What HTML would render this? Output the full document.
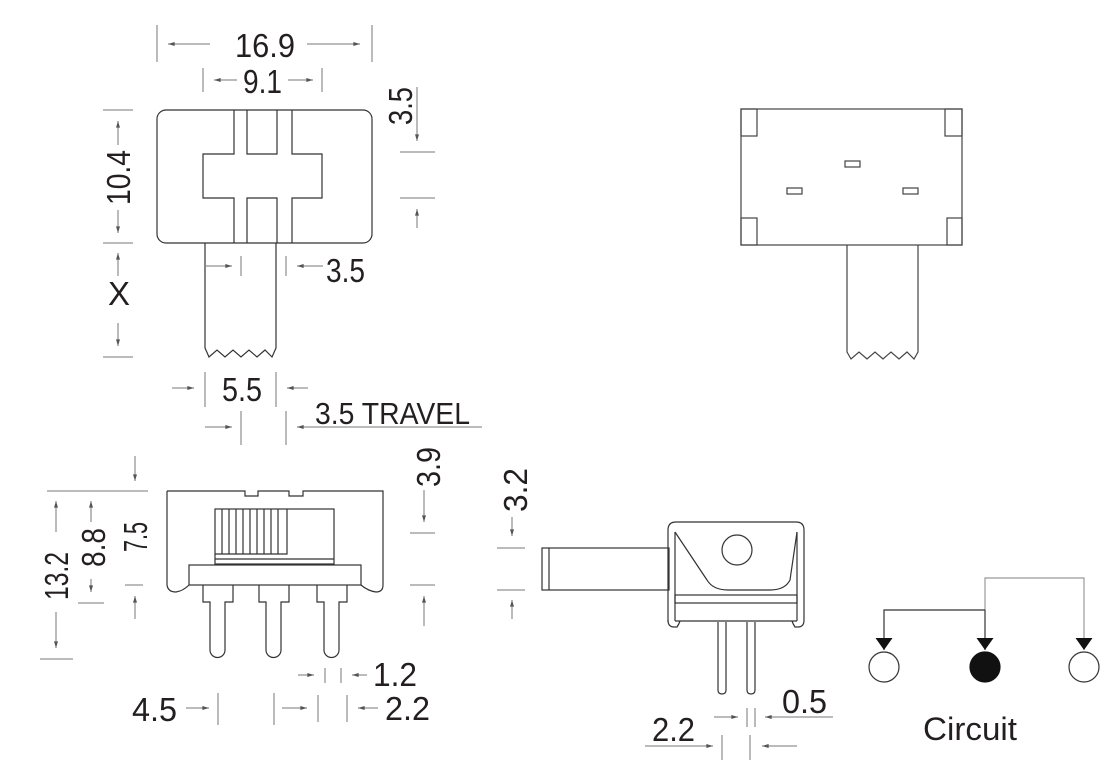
<!DOCTYPE html>
<html><head><meta charset="utf-8"><style>
html,body{margin:0;padding:0;background:#fff;}
svg{display:block;}
text{font-family:"Liberation Sans",sans-serif;fill:#231f20;}
</style></head><body>
<svg width="1120" height="784" viewBox="0 0 1120 784" xmlns="http://www.w3.org/2000/svg">
<defs>
<marker id="a" viewBox="0 0 10 6" refX="10" refY="3" markerWidth="7" markerHeight="4" orient="auto" markerUnits="userSpaceOnUse"><path d="M0,0 L10,3 L0,6z" fill="#555"/></marker>
<marker id="b" viewBox="0 0 10 10" refX="10" refY="5" markerWidth="12" markerHeight="17" orient="auto" markerUnits="userSpaceOnUse" preserveAspectRatio="none"><path d="M0,0 L10,5 L0,10z" fill="#111"/></marker>
</defs>

<g stroke="#777" stroke-width="1" fill="none">
<line x1="157" y1="25" x2="157" y2="62"/><line x1="372" y1="25" x2="372" y2="62"/>
<line x1="210" y1="44" x2="168" y2="44" marker-end="url(#a)"/><line x1="307" y1="44" x2="360" y2="44" marker-end="url(#a)"/>
<line x1="203" y1="68" x2="203" y2="92"/><line x1="322" y1="68" x2="322" y2="92"/>
<line x1="237" y1="80" x2="214" y2="80" marker-end="url(#a)"/><line x1="288" y1="80" x2="313" y2="80" marker-end="url(#a)"/>
<line x1="417" y1="87" x2="417" y2="141" marker-end="url(#a)"/>
<line x1="400" y1="152" x2="435" y2="152"/><line x1="400" y1="198" x2="435" y2="198"/>
<line x1="417" y1="228" x2="417" y2="209" marker-end="url(#a)"/>
<line x1="103" y1="110" x2="133" y2="110"/><line x1="103" y1="243" x2="133" y2="243"/><line x1="103" y1="357" x2="133" y2="357"/>
<line x1="118" y1="145" x2="118" y2="121" marker-end="url(#a)"/>
<line x1="118" y1="210" x2="118" y2="233" marker-end="url(#a)"/>
<line x1="118" y1="276" x2="118" y2="253" marker-end="url(#a)"/>
<line x1="118" y1="323" x2="118" y2="346" marker-end="url(#a)"/>
<line x1="206" y1="266" x2="232" y2="266" marker-end="url(#a)"/>
<line x1="241" y1="256" x2="241" y2="276"/><line x1="286" y1="256" x2="286" y2="276"/>
<line x1="323" y1="266" x2="297" y2="266" marker-end="url(#a)"/>
<line x1="205" y1="372" x2="205" y2="407"/><line x1="276" y1="372" x2="276" y2="407"/>
<line x1="172" y1="388" x2="194" y2="388" marker-end="url(#a)"/><line x1="308" y1="388" x2="287" y2="388" marker-end="url(#a)"/>
<line x1="241" y1="411" x2="241" y2="445"/><line x1="286" y1="411" x2="286" y2="445"/>
<line x1="205" y1="427" x2="232" y2="427" marker-end="url(#a)"/><line x1="482" y1="427" x2="297" y2="427" marker-end="url(#a)"/>

<line x1="47" y1="491" x2="148" y2="491"/><line x1="40" y1="659" x2="73" y2="659"/>
<line x1="56" y1="532" x2="56" y2="501" marker-end="url(#a)"/><line x1="56" y1="612" x2="56" y2="648" marker-end="url(#a)"/>
<line x1="91" y1="522" x2="91" y2="501" marker-end="url(#a)"/><line x1="91" y1="579" x2="91" y2="592" marker-end="url(#a)"/>
<line x1="78" y1="603" x2="104" y2="603"/>
<line x1="135" y1="456" x2="135" y2="481" marker-end="url(#a)"/>
<line x1="125" y1="585" x2="143" y2="585"/>
<line x1="135" y1="619" x2="135" y2="596" marker-end="url(#a)"/>
<line x1="424" y1="490" x2="424" y2="522" marker-end="url(#a)"/>
<line x1="410" y1="533" x2="435" y2="533"/><line x1="410" y1="585" x2="435" y2="585"/>
<line x1="424" y1="626" x2="424" y2="596" marker-end="url(#a)"/>
<line x1="325" y1="668" x2="325" y2="683"/><line x1="341" y1="668" x2="341" y2="683"/>
<line x1="298" y1="675" x2="314" y2="675" marker-end="url(#a)"/><line x1="367" y1="675" x2="352" y2="675" marker-end="url(#a)"/>
<line x1="218" y1="693" x2="218" y2="725"/><line x1="274" y1="693" x2="274" y2="725"/>
<line x1="318" y1="695" x2="318" y2="722"/><line x1="347" y1="695" x2="347" y2="722"/>
<line x1="186" y1="708" x2="209" y2="708" marker-end="url(#a)"/>
<line x1="282" y1="708" x2="307" y2="708" marker-end="url(#a)"/>
<line x1="378" y1="708" x2="358" y2="708" marker-end="url(#a)"/>
<line x1="512" y1="517" x2="512" y2="536" marker-end="url(#a)"/>
<line x1="497" y1="548" x2="525" y2="548"/><line x1="497" y1="590" x2="525" y2="590"/>
<line x1="512" y1="619" x2="512" y2="600" marker-end="url(#a)"/>
<line x1="747" y1="708" x2="747" y2="727"/><line x1="755" y1="708" x2="755" y2="727"/>
<line x1="714" y1="717" x2="738" y2="717" marker-end="url(#a)"/><line x1="833" y1="717" x2="765" y2="717" marker-end="url(#a)"/>
<line x1="722" y1="735" x2="722" y2="760"/><line x1="750" y1="735" x2="750" y2="760"/>
<line x1="645" y1="746" x2="713" y2="746" marker-end="url(#a)"/><line x1="797" y1="746" x2="762" y2="746" marker-end="url(#a)"/>
</g>

<g stroke="#333" stroke-width="1.2" fill="none">
<rect x="157" y="110" width="215" height="133" rx="9"/>
<path d="M234,110 V154 H203 V198 H234 V243 M292,110 V154 H322 V198 H292 V243"/>
<path d="M247,110 V154 H277 V110 M247,243 V198 H277 V243"/>
<path d="M205,243 V348 L209,357 L217,350 L225,357 L233,350 L241,357 L249,350 L257,357 L265,350 L272,357 L276,348 V243"/>
</g>

<g stroke="#444" stroke-width="1.2" fill="none">
<rect x="741" y="109" width="221" height="136"/>
<rect x="741" y="109" width="16" height="27"/><rect x="945" y="109" width="17" height="27"/>
<rect x="741" y="218" width="16" height="27"/><rect x="947" y="218" width="15" height="27"/>
<rect x="845" y="161" width="15" height="6"/><rect x="787" y="188" width="15" height="6"/><rect x="903" y="188" width="15" height="6"/>
<path d="M847,245 V352 L851,359 L859,352 L867,359 L875,352 L883,359 L891,352 L899,359 L907,352 L914,359 L918,352 V245"/>
</g>

<g stroke="#333" stroke-width="1.2" fill="none">
<path d="M167,491 H245 V496 H258 V491 H289 V496 H303 V491 H383 V585 Q383,592 376,592 Q368,591 361,585 M167,491 V585 Q168,592 176,592 Q183,591 189,585"/>
<rect x="189" y="565" width="172" height="20"/>
<rect x="215" y="509" width="119" height="55"/>
<path d="M215,554 H287 V509 M215,559 H334"/>
<path d="M222,509V554M229,509V554M236,509V554M243,509V554M250,509V554M257,509V554M264,509V554M271,509V554M278,509V554"/>
<path d="M203,585 V602 H210 V650 A7.5,7.5 0 0 0 225,650 V602 H233 V585"/>
<path d="M259,585 V602 H266 V650 A7.5,7.5 0 0 0 281,650 V602 H289 V585"/>
<path d="M317,585 V602 H324 V650 A7.5,7.5 0 0 0 339,650 V602 H347 V585"/>
</g>

<g stroke="#333" stroke-width="1.2" fill="none">
<rect x="542" y="548" width="127" height="42"/>
<line x1="549" y1="548" x2="549" y2="590"/>
<path d="M668,622 V530 Q668,522 676,522 H796 Q804,522 804,530 V620 Q804,627 798,627 H795 Q793,624 792,621"/>
<path d="M668,620 Q668,627 674,627 H677 Q679,624 680,621"/>
<path d="M675,532 V621 M797,532 V621 M675,621 H797"/>
<path d="M675,532 L707,580 Q713,590 728,590 H770 Q785,590 790,580 L797,532"/>
<circle cx="737" cy="550" r="15"/>
<rect x="675" y="595" width="122" height="8"/>
<path d="M718,622 V690 Q718,694 722,694 Q726,694 726,690 V622"/>
<path d="M747,622 V690 Q747,694 751,694 Q755,694 755,690 V622"/>
</g>

<g fill="none" stroke-width="1.2">
<path d="M985,610 V578 H1084 V650" stroke="#999" marker-end="url(#b)"/>
<path d="M985,610 H884 V650" stroke="#333" marker-end="url(#b)"/>
<path d="M985,610 V650" stroke="#333" marker-end="url(#b)"/>
<circle cx="884" cy="667" r="15" stroke="#333"/>
<circle cx="985" cy="667" r="15" stroke="#111" fill="#111"/>
<circle cx="1084" cy="667" r="15" stroke="#333"/>
</g>

<g font-size="33">
<text x="235" y="57" textLength="60" lengthAdjust="spacingAndGlyphs">16.9</text>
<text x="243" y="93" textLength="39" lengthAdjust="spacingAndGlyphs">9.1</text>
<text x="326" y="282" textLength="39" lengthAdjust="spacingAndGlyphs">3.5</text>
<text x="222" y="401" textLength="40" lengthAdjust="spacingAndGlyphs">5.5</text>
<text x="315" y="424" textLength="155" lengthAdjust="spacingAndGlyphs" font-size="31">3.5 TRAVEL</text>
<text x="108" y="305" textLength="22" lengthAdjust="spacingAndGlyphs">X</text>
<text transform="translate(130,205) rotate(-90)" textLength="55" lengthAdjust="spacingAndGlyphs">10.4</text>
<text transform="translate(412,125) rotate(-90)" textLength="38" lengthAdjust="spacingAndGlyphs">3.5</text>
<text transform="translate(68,600) rotate(-90)" textLength="48" lengthAdjust="spacingAndGlyphs">13.2</text>
<text transform="translate(105,567) rotate(-90)" textLength="39" lengthAdjust="spacingAndGlyphs">8.8</text>
<text transform="translate(147,552) rotate(-90)" textLength="30" lengthAdjust="spacingAndGlyphs">7.5</text>
<text transform="translate(440,487) rotate(-90)" textLength="40" lengthAdjust="spacingAndGlyphs">3.9</text>
<text transform="translate(527,512) rotate(-90)" textLength="44" lengthAdjust="spacingAndGlyphs">3.2</text>
<text x="373" y="686" textLength="44" lengthAdjust="spacingAndGlyphs">1.2</text>
<text x="132" y="721" textLength="45" lengthAdjust="spacingAndGlyphs">4.5</text>
<text x="385" y="720" textLength="45" lengthAdjust="spacingAndGlyphs">2.2</text>
<text x="782" y="713" textLength="45" lengthAdjust="spacingAndGlyphs">0.5</text>
<text x="652" y="741" textLength="43" lengthAdjust="spacingAndGlyphs">2.2</text>
<text x="923" y="740" textLength="94" lengthAdjust="spacingAndGlyphs" font-size="32">Circuit</text>
</g>
</svg>
</body></html>
